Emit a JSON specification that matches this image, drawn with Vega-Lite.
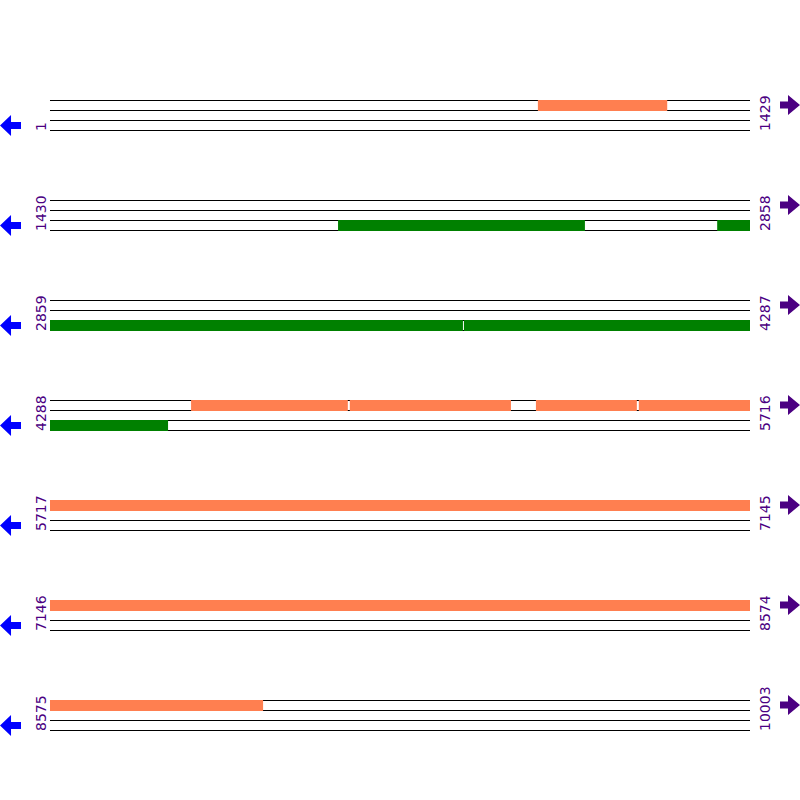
{
  "$schema": "https://vega.github.io/schema/vega-lite/v6.json",
  "width": 800,
  "height": 800,
  "autosize": {"type": "none"},
  "padding": 0,
  "background": "white",
  "config": {"view": {"stroke": null}},
  "datasets": {
    "lines": [
      {"lane": 0.0}, {"lane": 0.1}, {"lane": 0.2}, {"lane": 0.3},
      {"lane": 1.0}, {"lane": 1.1}, {"lane": 1.2}, {"lane": 1.3},
      {"lane": 2.0}, {"lane": 2.1}, {"lane": 2.2}, {"lane": 2.3},
      {"lane": 3.0}, {"lane": 3.1}, {"lane": 3.2}, {"lane": 3.3},
      {"lane": 4.0}, {"lane": 4.1}, {"lane": 4.2}, {"lane": 4.3},
      {"lane": 5.0}, {"lane": 5.1}, {"lane": 5.2}, {"lane": 5.3},
      {"lane": 6.0}, {"lane": 6.1}, {"lane": 6.2}, {"lane": 6.3}
    ],
    "rows": [
      {"row": 0, "first": "1", "last": "1429"},
      {"row": 1, "first": "1430", "last": "2858"},
      {"row": 2, "first": "2859", "last": "4287"},
      {"row": 3, "first": "4288", "last": "5716"},
      {"row": 4, "first": "5717", "last": "7145"},
      {"row": 5, "first": "7146", "last": "8574"},
      {"row": 6, "first": "8575", "last": "10003"}
    ],
    "orfs": [
      {"row": 0, "strand": "+", "lane": 0.0, "lane2": 0.1, "start": 996, "end": 1260},
      {"row": 1, "strand": "-", "lane": 1.2, "lane2": 1.3, "start": 588, "end": 1092},
      {"row": 1, "strand": "-", "lane": 1.2, "lane2": 1.3, "start": 1362, "end": 1429},
      {"row": 2, "strand": "-", "lane": 2.2, "lane2": 2.3, "start": 0, "end": 843},
      {"row": 2, "strand": "-", "lane": 2.2, "lane2": 2.3, "start": 845, "end": 1429},
      {"row": 3, "strand": "+", "lane": 3.0, "lane2": 3.1, "start": 288, "end": 608},
      {"row": 3, "strand": "+", "lane": 3.0, "lane2": 3.1, "start": 612, "end": 941},
      {"row": 3, "strand": "+", "lane": 3.0, "lane2": 3.1, "start": 992, "end": 1198},
      {"row": 3, "strand": "+", "lane": 3.0, "lane2": 3.1, "start": 1202, "end": 1429},
      {"row": 3, "strand": "-", "lane": 3.2, "lane2": 3.3, "start": 0, "end": 241},
      {"row": 4, "strand": "+", "lane": 4.0, "lane2": 4.1, "start": 0, "end": 1429},
      {"row": 5, "strand": "+", "lane": 5.0, "lane2": 5.1, "start": 0, "end": 1429},
      {"row": 6, "strand": "+", "lane": 6.0, "lane2": 6.1, "start": 0, "end": 435}
    ]
  },
  "resolve": {"scale": {"x": "shared", "y": "shared"}},
  "layer": [
    {
      "data": {"name": "lines"},
      "mark": {"type": "rule", "color": "black", "strokeWidth": 1, "yOffset": 0.5},
      "encoding": {
        "x": {"datum": 0, "type": "quantitative", "scale": {"domain": [-102.07, 1531.07], "nice": false, "zero": false}, "axis": null},
        "x2": {"datum": 1429},
        "y": {"field": "lane", "type": "quantitative", "scale": {"domain": [-1, 7], "reverse": true, "nice": false, "zero": false}, "axis": null}
      }
    },
    {
      "data": {"name": "orfs"},
      "mark": {"type": "rect", "y2Offset": 1},
      "encoding": {
        "x": {"field": "start", "type": "quantitative"},
        "x2": {"field": "end"},
        "y": {"field": "lane", "type": "quantitative"},
        "y2": {"field": "lane2"},
        "color": {"field": "strand", "type": "nominal", "scale": {"domain": ["+", "-"], "range": ["#FF7F50", "#008000"]}, "legend": null}
      }
    },
    {
      "data": {"name": "rows"},
      "mark": {"type": "text", "angle": 270, "align": "left", "baseline": "alphabetic", "font": "DejaVu Sans", "fontSize": 14, "color": "#4B0082", "xOffset": -3.5, "yOffset": 31},
      "encoding": {
        "x": {"datum": 0, "type": "quantitative"},
        "y": {"field": "row", "type": "quantitative"},
        "text": {"field": "first"}
      }
    },
    {
      "data": {"name": "rows"},
      "mark": {"type": "text", "angle": 270, "align": "left", "baseline": "alphabetic", "font": "DejaVu Sans", "fontSize": 14, "color": "#4B0082", "xOffset": 20, "yOffset": 31},
      "encoding": {
        "x": {"datum": 1429, "type": "quantitative"},
        "y": {"field": "row", "type": "quantitative"},
        "text": {"field": "last"}
      }
    },
    {
      "data": {"name": "rows"},
      "mark": {"type": "point", "filled": true, "opacity": 1, "color": "#0000FF", "size": 441, "strokeWidth": 0, "xOffset": -39.5, "yOffset": 25.5,
        "shape": "M-1,0 L0.05,-1 L0.05,-0.33 L1,-0.33 L1,0.33 L0.05,0.33 L0.05,1 Z"},
      "encoding": {
        "x": {"datum": 0, "type": "quantitative"},
        "y": {"field": "row", "type": "quantitative"}
      }
    },
    {
      "data": {"name": "rows"},
      "mark": {"type": "point", "filled": true, "opacity": 1, "color": "#4B0082", "size": 400, "strokeWidth": 0, "xOffset": 40, "yOffset": 5,
        "shape": "M1,0 L-0.2,-1 L-0.2,-0.35 L-1,-0.35 L-1,0.35 L-0.2,0.35 L-0.2,1 Z"},
      "encoding": {
        "x": {"datum": 1429, "type": "quantitative"},
        "y": {"field": "row", "type": "quantitative"}
      }
    }
  ]
}
